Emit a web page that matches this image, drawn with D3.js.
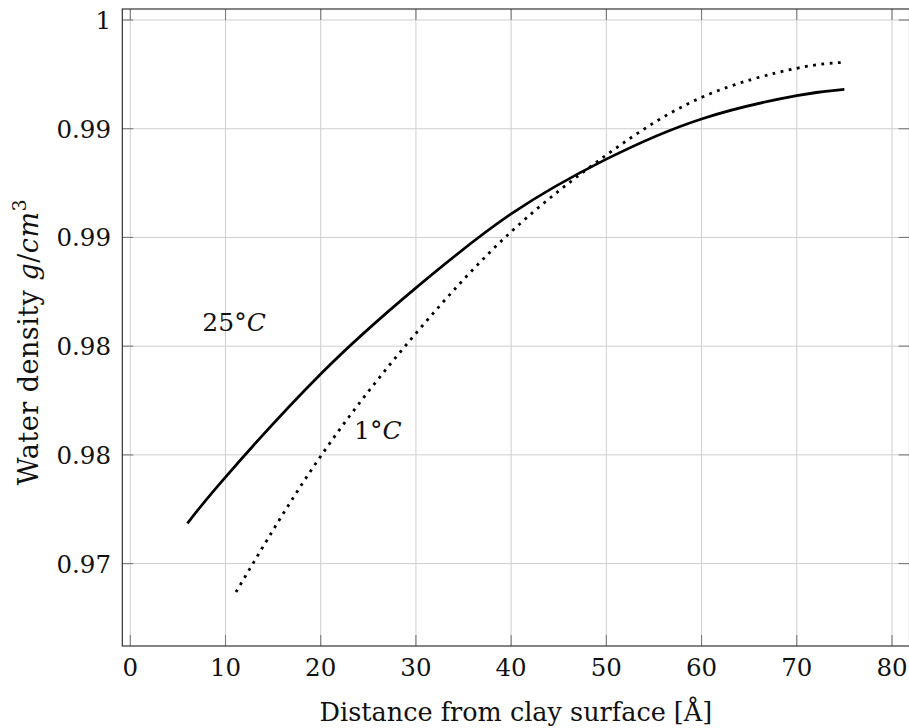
<!DOCTYPE html>
<html>
<head>
<meta charset="utf-8">
<script src="https://cdn.jsdelivr.net/npm/d3@7"></script>
<style>
  body { margin: 0; background: #fff; }
  svg text { font-family: "DejaVu Serif", serif; fill: #111; }
</style>
</head>
<body>
<svg id="chart" width="909" height="728"></svg>
<script>
// values
var xTicks = [0, 10, 20, 30, 40, 50, 60, 70, 80];
var yTicks = [0.975, 0.98, 0.985, 0.99, 0.995, 1.0];
var yTickLabels = ["0.97", "0.98", "0.98", "0.99", "0.99", "1"];

// 25 C (solid)
var dist25 = [6, 10, 20, 30, 40, 50, 60, 70, 75];
var dens25 = [0.97685, 0.97898, 0.98372, 0.98768, 0.99108, 0.99360, 0.99545, 0.99652, 0.99681];

// 1 C (dotted)
var dist1 = [11.1, 20, 30, 40, 50, 60, 70, 75];
var dens1 = [0.97369, 0.97994, 0.98559, 0.99026, 0.99379, 0.99644, 0.99778, 0.99805];

var labelText = ["25°", "1°"];
var labelX = [10.9, 26];
var labelY = [0.98611, 0.98114];

var svg = d3.select("#chart");

var pLeft = 122.3, pRight = 909.5, pTop = 9, pBottom = 646;

var x = d3.scaleLinear().domain([-0.84, 81.84]).range([pLeft, pRight]);
var y = d3.scaleLinear().domain([0.97121, 1.000506]).range([pBottom, pTop]);

// grid
var grid = svg.append("g").attr("class", "grid");
grid.selectAll("line.gx").data(xTicks).enter().append("line")
    .attr("x1", function (d) { return x(d); })
    .attr("x2", function (d) { return x(d); })
    .attr("y1", pTop).attr("y2", pBottom)
    .attr("stroke", "#cfcfcf").attr("stroke-width", 1);
grid.selectAll("line.gy").data(yTicks).enter().append("line")
    .attr("y1", function (d) { return y(d); })
    .attr("y2", function (d) { return y(d); })
    .attr("x1", pLeft).attr("x2", pRight)
    .attr("stroke", "#cfcfcf").attr("stroke-width", 1);

// inner tick marks on all four sides
var tl = 11;
var ticks = svg.append("g").attr("stroke", "#7a7a7a").attr("stroke-width", 1.1);
xTicks.forEach(function (d) {
    ticks.append("line").attr("x1", x(d)).attr("x2", x(d)).attr("y1", pBottom).attr("y2", pBottom - tl);
    ticks.append("line").attr("x1", x(d)).attr("x2", x(d)).attr("y1", pTop).attr("y2", pTop + tl);
});
yTicks.forEach(function (d) {
    ticks.append("line").attr("y1", y(d)).attr("y2", y(d)).attr("x1", pLeft).attr("x2", pLeft + tl);
    ticks.append("line").attr("y1", y(d)).attr("y2", y(d)).attr("x1", pRight).attr("x2", pRight - tl);
});

// frame
svg.append("rect")
    .attr("x", pLeft).attr("y", pTop)
    .attr("width", pRight - pLeft).attr("height", pBottom - pTop)
    .attr("fill", "none").attr("stroke", "#222").attr("stroke-width", 1.1);

// tick labels
svg.append("g").selectAll("text").data(xTicks).enter().append("text")
    .attr("x", function (d) { return x(d); })
    .attr("y", 676)
    .attr("text-anchor", "middle")
    .style("font-size", "24.5px")
    .text(function (d) { return d; });

svg.append("g").selectAll("text").data(yTicks).enter().append("text")
    .attr("x", 111)
    .attr("y", function (d) { return y(d) + 9; })
    .attr("text-anchor", "end")
    .style("font-size", "24.5px")
    .text(function (d, i) { return yTickLabels[i]; });

// axis titles
svg.append("text")
    .attr("x", (pLeft + pRight) / 2)
    .attr("y", 721)
    .attr("text-anchor", "middle")
    .style("font-size", "25.5px")
    .text("Distance from clay surface [Å]");

var yl = svg.append("text")
    .attr("transform", "translate(38,342) rotate(-90)")
    .attr("text-anchor", "middle")
    .style("font-size", "27px")
    .style("letter-spacing", "0.5px");
yl.append("tspan").text("Water density ");
yl.append("tspan").style("font-style", "italic").text("g");
yl.append("tspan").text("/");
yl.append("tspan").style("font-style", "italic").text("cm");
yl.append("tspan").attr("dy", -12).style("font-size", "19px").text("3");

// curves
var line = d3.line()
    .x(function (d) { return x(d[0]); })
    .y(function (d) { return y(d[1]); })
    .curve(d3.curveNatural);

svg.append("path")
    .datum(d3.zip(dist25, dens25))
    .attr("d", line)
    .attr("fill", "none")
    .attr("stroke", "#000")
    .attr("stroke-width", 2.7);

svg.append("path")
    .datum(d3.zip(dist1, dens1))
    .attr("d", line)
    .attr("fill", "none")
    .attr("stroke", "#000")
    .attr("stroke-width", 2.8)
    .attr("stroke-dasharray", "2.8,5.5");

// annotations
labelText.forEach(function (t, i) {
    var n = svg.append("text")
        .attr("x", x(labelX[i]))
        .attr("y", y(labelY[i]) + 9)
        .attr("text-anchor", "middle")
        .style("font-size", "25px");
    n.append("tspan").text(t);
    n.append("tspan").style("font-style", "italic").text("C");
});
</script>
</body>
</html>
